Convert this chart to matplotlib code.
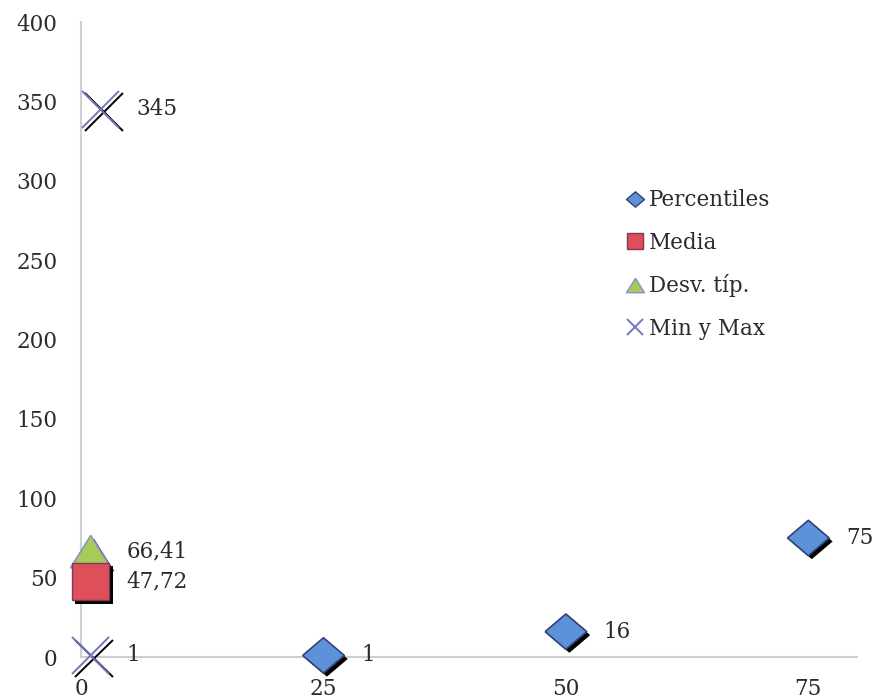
import matplotlib; matplotlib.use("Agg")
import matplotlib.pyplot as plt
import matplotlib.patheffects as pe
from matplotlib.lines import Line2D

# descriptive stats plotted as loose markers
PCT_X = [25, 50, 75]
PCT_Y = [1, 16, 75]
MEDIA_X, MEDIA = 1, 47.72
DESV_X, DESV = 1, 66.41
MINMAX_X = [1, 2]
MINMAX = [1, 345]
PCT_LABELS = ["1", "16", "75"]
MEDIA_LABEL = "47,72"
DESV_LABEL = "66,41"
MINMAX_LABELS = ["1", "345"]
XTICKS = [0, 25, 50, 75]
YTICKS = [0, 50, 100, 150, 200, 250, 300, 350, 400]

INK = "#2b2b2b"; AXC = "#cfcfcf"
BLUE = "#5d92d8"; RED = "#df4f5a"; GREEN = "#a6cc58"; XCOL = "#7276bd"
plt.rcParams["font.family"] = ["DejaVu Serif"]

fig = plt.figure(figsize=(8.77, 6.99), dpi=100)
ax = fig.add_axes([0.0924, 0.060, 0.8846, 0.9085])

shadow = [pe.SimplePatchShadow(offset=(2.5, -2.5), shadow_rgbFace="black", alpha=1.0), pe.Normal()]
xshadow = [pe.SimpleLineShadow(offset=(2.5, -2.0), shadow_color="black", alpha=1.0), pe.Normal()]
diamond = [(-1, 0), (0, 0.85), (1, 0), (0, -0.85), (-1, 0)]
tri = [(0, 0.8), (-1, -0.8), (1, -0.8), (0, 0.8)]

ax.plot(PCT_X, PCT_Y, ls="none", marker=diamond, ms=30, mfc=BLUE, mec="#34407a",
        mew=1.2, path_effects=shadow, clip_on=False, zorder=3)
ax.plot([MEDIA_X], [MEDIA], ls="none", marker="s", ms=27, mfc=RED, mec="#7a3a5a",
        mew=1.0, path_effects=shadow, clip_on=False, zorder=4)
ax.plot([DESV_X], [DESV], ls="none", marker=tri, ms=29, mfc=GREEN, mec="#8d8fcf",
        mew=1.2, path_effects=shadow, clip_on=False, zorder=3)
ax.plot(MINMAX_X, MINMAX, ls="none", marker="x", ms=27, mec=XCOL, mew=1.4,
        path_effects=xshadow, clip_on=False, zorder=3)

lab_kw = dict(textcoords="offset points", va="center", ha="left", fontsize=15.5, color=INK)
for x, y, t in zip(PCT_X, PCT_Y, PCT_LABELS):
    ax.annotate(t, (x, y), xytext=(27, 0), **lab_kw)
ax.annotate(DESV_LABEL, (DESV_X, DESV), xytext=(26, 0), **lab_kw)
ax.annotate(MEDIA_LABEL, (MEDIA_X, MEDIA), xytext=(26, 0), **lab_kw)
for x, y, t in zip(MINMAX_X, MINMAX, MINMAX_LABELS):
    ax.annotate(t, (x, y), xytext=(26, 0), **lab_kw)

ax.set_xlim(0, 80)
ax.set_ylim(0, 400)
ax.set_xticks(XTICKS)
ax.set_yticks(YTICKS)
ax.tick_params(length=0, labelsize=15.5, colors=INK)
ax.tick_params(axis="y", pad=17)
ax.tick_params(axis="x", pad=15)
for s in ("top", "right"):
    ax.spines[s].set_visible(False)
for s in ("left", "bottom"):
    ax.spines[s].set_color(AXC); ax.spines[s].set_linewidth(1.5)

handles = [
    Line2D([], [], ls="none", marker=diamond, ms=13, mfc=BLUE, mec="#34407a", mew=1.0),
    Line2D([], [], ls="none", marker="s", ms=11, mfc=RED, mec="#7a3a5a", mew=1.0),
    Line2D([], [], ls="none", marker=tri, ms=13, mfc=GREEN, mec="#8d8fcf", mew=1.0),
    Line2D([], [], ls="none", marker="x", ms=11, mec=XCOL, mew=1.4),
]
ax.legend(handles, ["Percentiles", "Media", "Desv. típ.", "Min y Max"],
          loc="upper left", bbox_to_anchor=(0.679, 0.767), frameon=False, fontsize=15.5,
          handlelength=0.7, handletextpad=0.3, labelspacing=0.95, labelcolor=INK)
fig.savefig("out.png", facecolor="white")
